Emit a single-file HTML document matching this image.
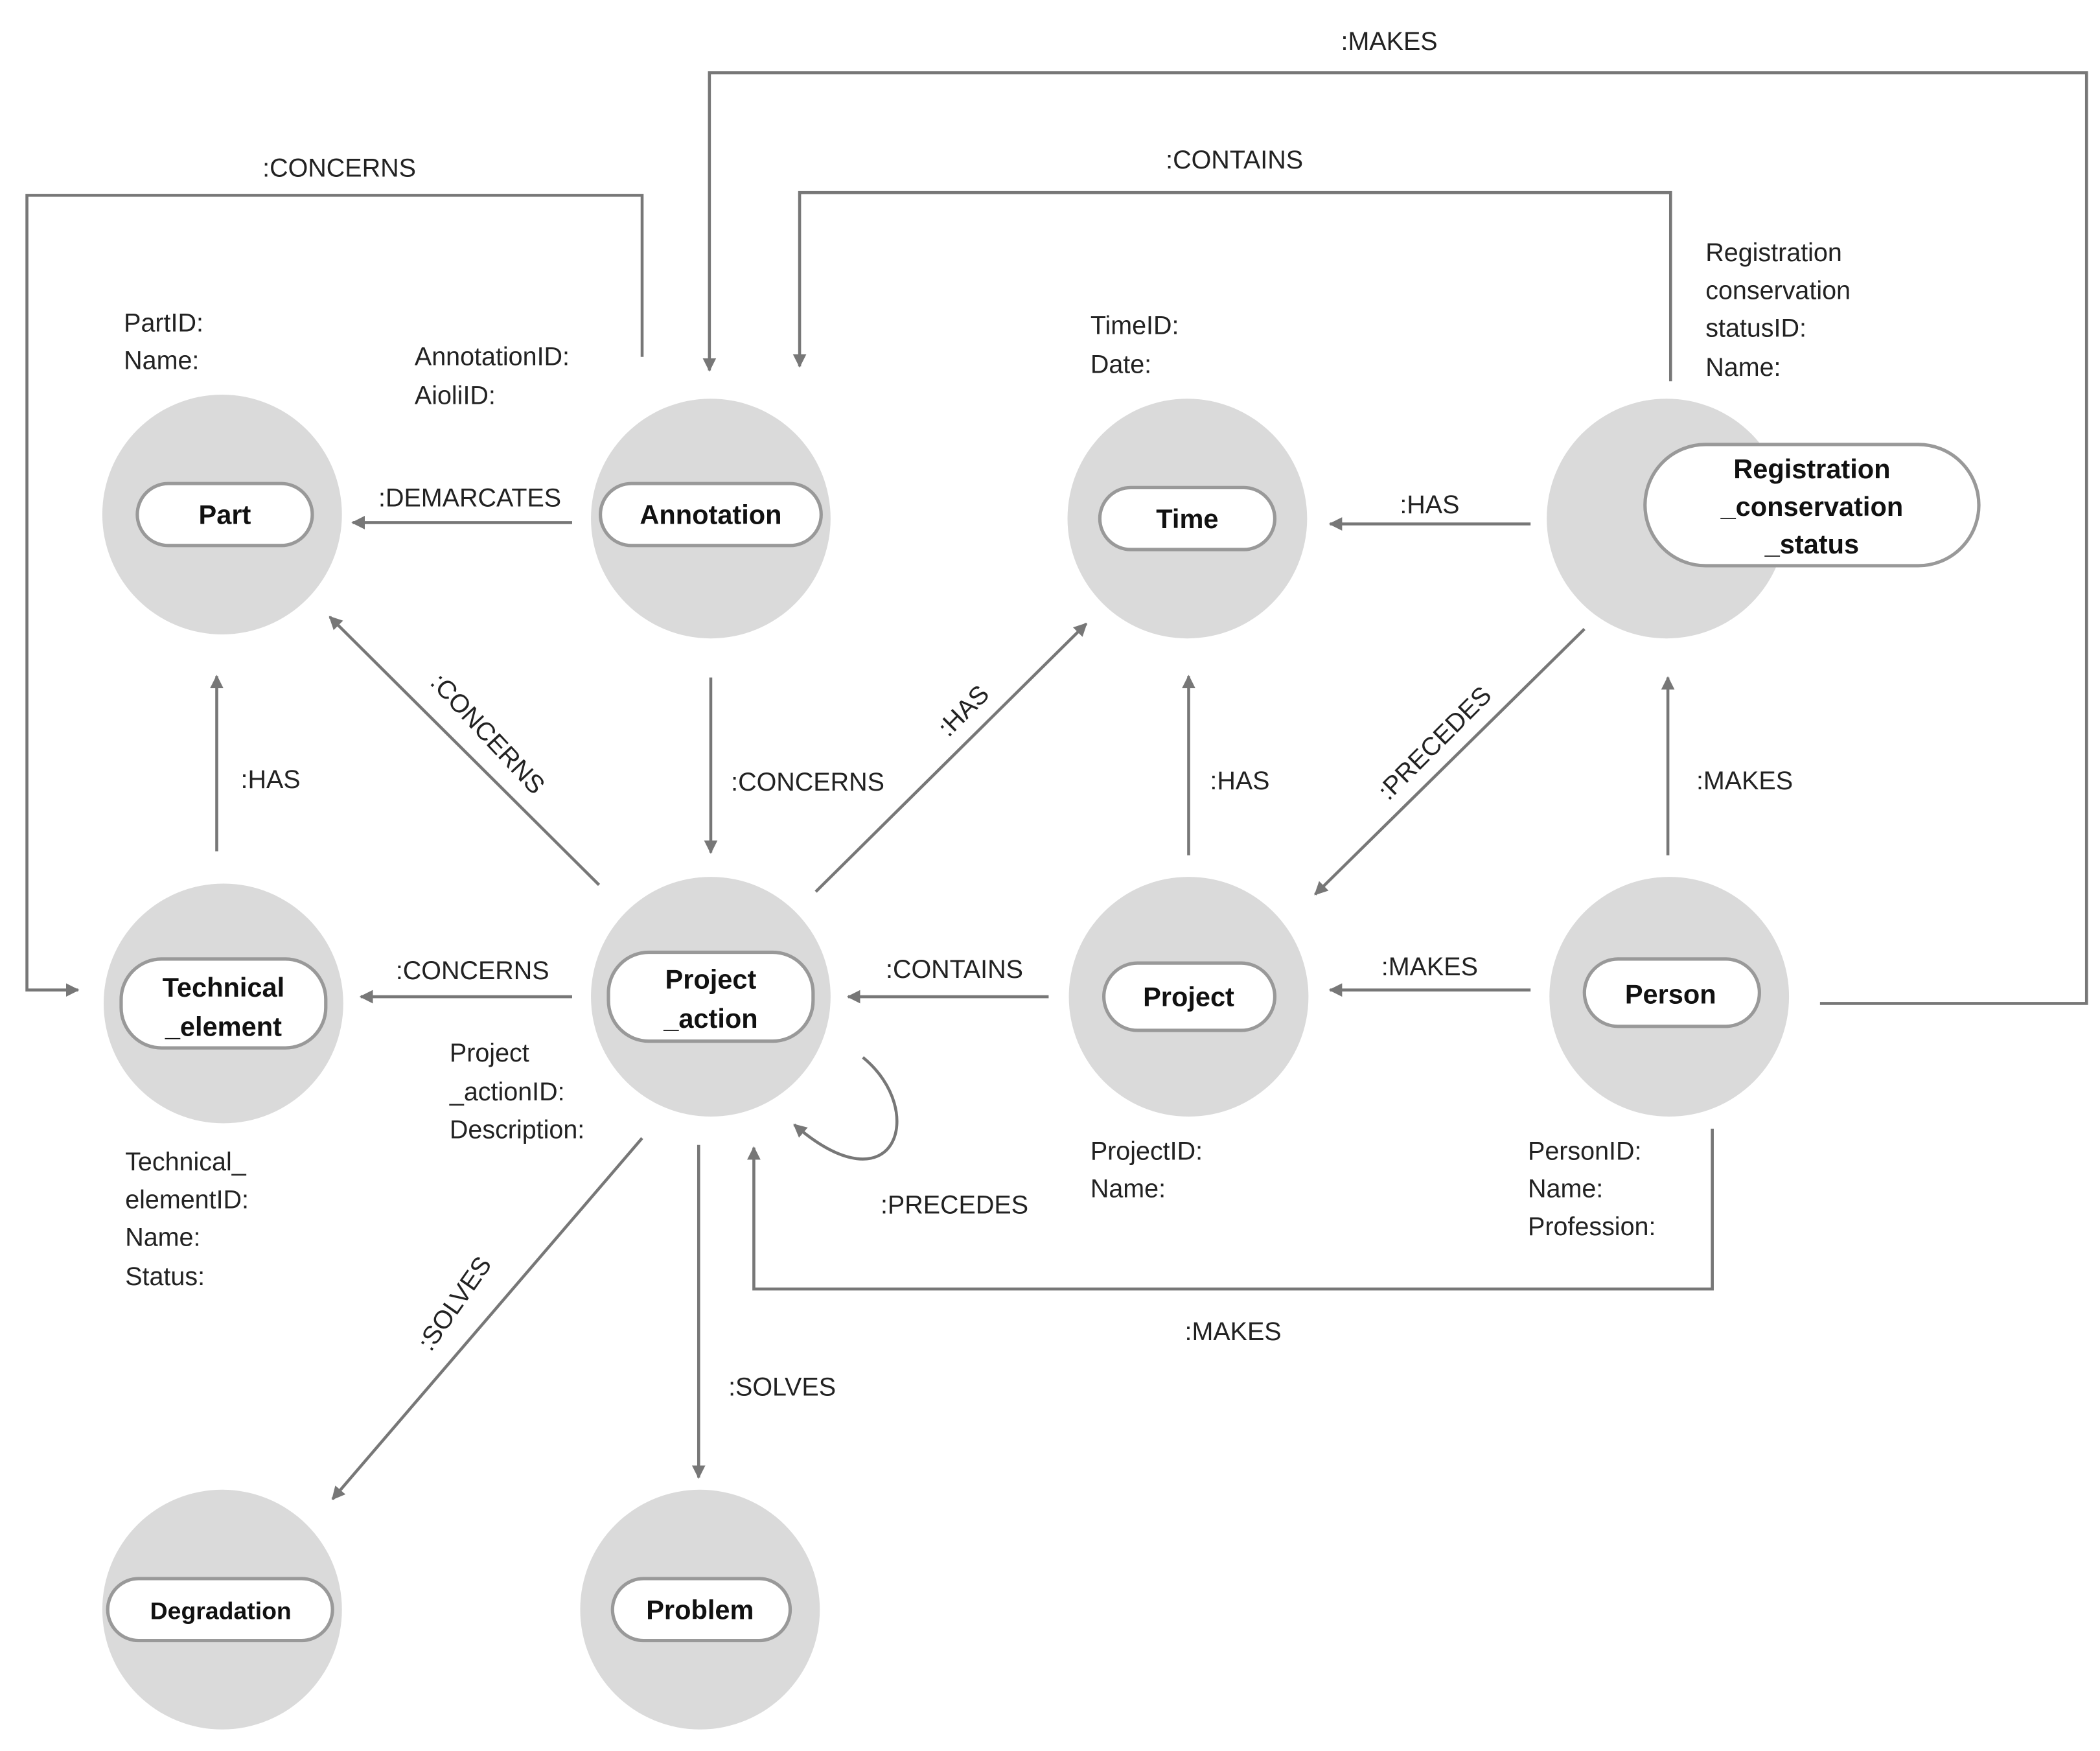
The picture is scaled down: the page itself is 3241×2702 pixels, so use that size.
<!DOCTYPE html>
<html><head><meta charset="utf-8"><style>
html,body{margin:0;padding:0;background:#fff;}
svg{display:block;}
text{font-family:"Liberation Sans",sans-serif;fill:#222;}
.a{font-size:19px;}
.n{font-size:20px;font-weight:bold;fill:#111;text-anchor:middle;}
.l{font-size:19px;text-anchor:middle;}
</style></head><body>
<svg width="3241" height="2702" viewBox="0 0 1560 1300" preserveAspectRatio="none" xmlns="http://www.w3.org/2000/svg">
<defs><marker id="ar" markerWidth="10" markerHeight="10" refX="9" refY="5" orient="auto" markerUnits="userSpaceOnUse"><path d="M0,0 L10,5 L0,10 z" fill="#777"/></marker></defs>
<g fill="#dadada">
<circle cx="165" cy="382" r="89"/><circle cx="528" cy="385" r="89"/><circle cx="882" cy="385" r="89"/><circle cx="1238" cy="385" r="89"/>
<circle cx="166" cy="745" r="89"/><circle cx="528" cy="740" r="89"/><circle cx="883" cy="740" r="89"/><circle cx="1240" cy="740" r="89"/>
<circle cx="165" cy="1195" r="89"/><circle cx="520" cy="1195" r="89"/>
</g>
<g fill="#fff" stroke="#999" stroke-width="2.5">
<rect x="102" y="359" width="130" height="46" rx="23"/>
<rect x="446" y="359" width="164" height="46" rx="23"/>
<rect x="817" y="362" width="130" height="46" rx="23"/>
<rect x="1222" y="330" width="248" height="90" rx="45"/>
<rect x="90" y="712" width="152" height="66" rx="30"/>
<rect x="452" y="707" width="152" height="66" rx="30"/>
<rect x="820" y="715" width="127" height="50" rx="25"/>
<rect x="1177" y="712" width="130" height="50" rx="25"/>
<rect x="80" y="1172" width="167" height="46" rx="23"/>
<rect x="455" y="1172" width="132" height="46" rx="23"/>
</g>
<text class="n" x="167" y="389">Part</text>
<text class="n" x="528" y="389">Annotation</text>
<text class="n" x="882" y="392">Time</text>
<text class="n" x="1346" y="355">Registration</text>
<text class="n" x="1346" y="383">_conservation</text>
<text class="n" x="1346" y="411">_status</text>
<text class="n" x="166" y="740">Technical</text>
<text class="n" x="166" y="769">_element</text>
<text class="n" x="528" y="734">Project</text>
<text class="n" x="528" y="763">_action</text>
<text class="n" x="883" y="747">Project</text>
<text class="n" x="1241" y="745">Person</text>
<text class="n" x="164" y="1202" style="font-size:18px">Degradation</text>
<text class="n" x="520" y="1202">Problem</text>
<g fill="none" stroke="#777" stroke-width="2.2" marker-end="url(#ar)">
<path d="M477,265 V145 H20 V735 H58"/>
<path d="M1352,745 H1550 V54 H527 V275"/>
<path d="M1241,283 V143 H594 V272"/>
<path d="M425,388 H262"/>
<path d="M1137,389 H988"/>
<path d="M161,632 V502"/>
<path d="M528,503 V633"/>
<path d="M445,657 L245,458"/>
<path d="M606,662 L807,463"/>
<path d="M883,635 V502"/>
<path d="M1177,467 L977,664"/>
<path d="M1239,635 V503"/>
<path d="M425,740 H268"/>
<path d="M779,740 H630"/>
<path d="M1137,735 H988"/>
<path d="M641,785 C690,825 665,900 590,835"/>
<path d="M1272,838 V957 H560 V852"/>
<path d="M477,845 L247,1113"/>
<path d="M519,850 V1097"/>
</g>
<g class="l">
<text x="252" y="131">:CONCERNS</text>
<text x="1032" y="37">:MAKES</text>
<text x="917" y="125">:CONTAINS</text>
<text x="349" y="376">:DEMARCATES</text>
<text x="1062" y="381">:HAS</text>
<text x="201" y="585">:HAS</text>
<text x="600" y="587">:CONCERNS</text>
<text x="921" y="586">:HAS</text>
<text x="1296" y="586">:MAKES</text>
<text x="351" y="727">:CONCERNS</text>
<text x="709" y="726">:CONTAINS</text>
<text x="1062" y="724">:MAKES</text>
<text x="709" y="901">:PRECEDES</text>
<text x="916" y="995">:MAKES</text>
<text x="581" y="1036">:SOLVES</text>
<text transform="translate(362,545) rotate(47)" y="6">:CONCERNS</text>
<text transform="translate(716,528) rotate(-45)" y="6">:HAS</text>
<text transform="translate(1066,552) rotate(-45)" y="6">:PRECEDES</text>
<text transform="translate(338,968) rotate(-55)" y="6">:SOLVES</text>
</g>
<g class="a">
<text x="92" y="246">PartID:</text><text x="92" y="274">Name:</text>
<text x="308" y="271">AnnotationID:</text><text x="308" y="300">AioliID:</text>
<text x="810" y="248">TimeID:</text><text x="810" y="277">Date:</text>
<text x="1267" y="194">Registration</text><text x="1267" y="222">conservation</text><text x="1267" y="250">statusID:</text><text x="1267" y="279">Name:</text>
<text x="334" y="788">Project</text><text x="334" y="817">_actionID:</text><text x="334" y="845">Description:</text>
<text x="93" y="869">Technical_</text><text x="93" y="897">elementID:</text><text x="93" y="925">Name:</text><text x="93" y="954">Status:</text>
<text x="810" y="861">ProjectID:</text><text x="810" y="889">Name:</text>
<text x="1135" y="861">PersonID:</text><text x="1135" y="889">Name:</text><text x="1135" y="917">Profession:</text>
</g>
</svg>
</body></html>
